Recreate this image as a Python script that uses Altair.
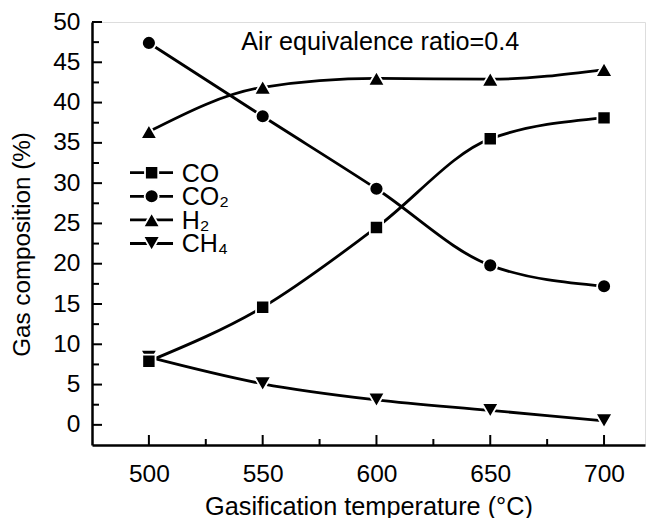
import altair as alt
import pandas as pd

# ---- data ----
temperature = [500, 550, 600, 650, 700]
co = [7.9, 14.6, 24.5, 35.5, 38.1]
co2 = [47.4, 38.3, 29.3, 19.8, 17.2]
h2 = [36.4, 41.9, 43.0, 42.9, 44.1]
ch4 = [8.4, 5.1, 3.1, 1.8, 0.5]

series_keys = ["CO", "CO2", "H2", "CH4"]
series_labels = ["CO", "CO\u2082", "H\u2082", "CH\u2084"]

x_major = [500, 550, 600, 650, 700]
x_minor = [525, 575, 625, 675]
y_major = [0, 5, 10, 15, 20, 25, 30, 35, 40, 45, 50]
y_minor = [2.5, 7.5, 12.5, 17.5, 22.5, 27.5, 32.5, 37.5, 42.5, 47.5]

x_title = "Gasification temperature (\u00b0C)"
y_title = "Gas composition (%)"
note_text = "Air equivalence ratio=0.4"

# ---- styles / layout ----
FONT = "Liberation Sans"
FS_TICK = 24.5
FS_XTITLE = 25.3
FS_YTITLE = 24.2
FS_NOTE = 25.2
FS_LEG = 25
marker_style = {
    "CO": ("square", 175),
    "CO2": ("circle", 195),
    "H2": ("triangle-up", 290),
    "CH4": ("triangle-down", 290),
}
draw_order = ["CH4", "H2", "CO2", "CO"]  # CO square on top at 500 °C
W, H = 553, 423
X_DOMAIN = [475, 718]
Y_DOMAIN = [-2.5, 50]
NOTE_X, NOTE_Y = 540.6, 46.57
LEG_Y0, LEG_DY = 31.3, 2.93
LEG_X1, LEG_XM, LEG_X2, LEG_XT = 491.7, 501.2, 510.6, 514.4

values = {"CO": co, "CO2": co2, "H2": h2, "CH4": ch4}
rows = []
for k in series_keys:
    for t, v in zip(temperature, values[k]):
        rows.append({"series": k, "T": t, "v": v})
df = pd.DataFrame(rows)

xs = alt.Scale(domain=X_DOMAIN, nice=False, zero=False)
ys = alt.Scale(domain=Y_DOMAIN, nice=False, zero=False)

x_axis = alt.Axis(
    values=x_major, ticks=False, tickSize=0, grid=False,
    labelPadding=17, labelFontSize=FS_TICK, labelFont=FONT, labelColor="black",
    labelOverlap=False, labelFlush=False,
    title=x_title, titleFontSize=FS_XTITLE, titleFont=FONT, titleFontWeight="normal",
    titleColor="black", titleY=69, titleBaseline="alphabetic",
    domainColor="black", domainWidth=2.5,
)
y_axis = alt.Axis(
    values=y_major, ticks=False, tickSize=0, grid=False,
    labelPadding=12, labelFontSize=FS_TICK, labelFont=FONT, labelColor="black",
    labelOverlap=False, labelFlush=False,
    title=y_title, titleFontSize=FS_YTITLE, titleFont=FONT, titleFontWeight="normal",
    titleColor="black", titleX=-63, titleY=222, titleAlign="center",
    titleBaseline="alphabetic",
    domainColor="black", domainWidth=2.5,
)

base = alt.Chart(df)

lines = base.mark_line(color="black", strokeWidth=2.8, interpolate="monotone").encode(
    x=alt.X("T:Q", scale=xs, axis=x_axis),
    y=alt.Y("v:Q", scale=ys, axis=y_axis),
    detail="series:N",
)

point_layers = []
for k in draw_order:
    shp, sz = marker_style[k]
    point_layers.append(
        base.transform_filter(alt.datum.series == k).mark_point(
            filled=True, color="black", stroke="white", strokeWidth=1.8,
            opacity=1, shape=shp, size=sz,
        ).encode(x=alt.X("T:Q", scale=xs), y=alt.Y("v:Q", scale=ys))
    )

# inward ticks drawn from the tick value lists
ymaj = alt.Chart(pd.DataFrame({"y": y_major})).mark_rule(color="black", strokeWidth=2).encode(
    y=alt.Y("y:Q", scale=ys), x=alt.value(0), x2=alt.value(10))
ymin = alt.Chart(pd.DataFrame({"y": y_minor})).mark_rule(color="black", strokeWidth=2).encode(
    y=alt.Y("y:Q", scale=ys), x=alt.value(0), x2=alt.value(7))
xmaj = alt.Chart(pd.DataFrame({"x": x_major})).mark_rule(color="black", strokeWidth=2).encode(
    x=alt.X("x:Q", scale=xs), y=alt.value(H), y2=alt.value(H - 10))
xmin = alt.Chart(pd.DataFrame({"x": x_minor})).mark_rule(color="black", strokeWidth=2).encode(
    x=alt.X("x:Q", scale=xs), y=alt.value(H), y2=alt.value(H - 6))

note = alt.Chart(pd.DataFrame({"t": [note_text]})).mark_text(
    align="left", baseline="alphabetic", font=FONT, fontSize=FS_NOTE, color="black"
).encode(x=alt.X("x:Q", scale=xs), y=alt.Y("y:Q", scale=ys), text="t:N").transform_calculate(
    x=str(NOTE_X), y=str(NOTE_Y))

# manual legend (line + marker + label)
leg = pd.DataFrame({
    "series": series_keys,
    "label": series_labels,
})
leg["ly"] = [LEG_Y0 - i * LEG_DY for i in range(len(leg))]
leg["x1"] = LEG_X1
leg["x2"] = LEG_X2
leg["xm"] = LEG_XM
leg["xt"] = LEG_XT
legbase = alt.Chart(leg)
leg_lines = legbase.mark_rule(color="black", strokeWidth=2.8).encode(
    x=alt.X("x1:Q", scale=xs), x2="x2:Q", y=alt.Y("ly:Q", scale=ys))
leg_pt_layers = []
for k in series_keys:
    shp, sz = marker_style[k]
    leg_pt_layers.append(
        legbase.transform_filter(alt.datum.series == k).mark_point(
            filled=True, color="black", stroke="white", strokeWidth=1.8,
            opacity=1, shape=shp, size=sz,
        ).encode(x=alt.X("xm:Q", scale=xs), y=alt.Y("ly:Q", scale=ys))
    )
leg_text = legbase.mark_text(
    align="left", baseline="middle", font=FONT, fontSize=FS_LEG, color="black", dy=1
).encode(x=alt.X("xt:Q", scale=xs), y=alt.Y("ly:Q", scale=ys), text="label:N")

chart = alt.layer(
    lines, *point_layers, ymaj, ymin, xmaj, xmin, note, leg_lines, *leg_pt_layers, leg_text
).properties(
    width=W, height=H,
    padding={"left": 84, "top": 14, "right": 1, "bottom": 73},
    autosize=alt.AutoSizeParams(type="none"),
    background="white",
).configure_view(stroke=None).configure(font=FONT)

chart.save("out.html", embed_options={"renderer": "svg", "actions": False})
